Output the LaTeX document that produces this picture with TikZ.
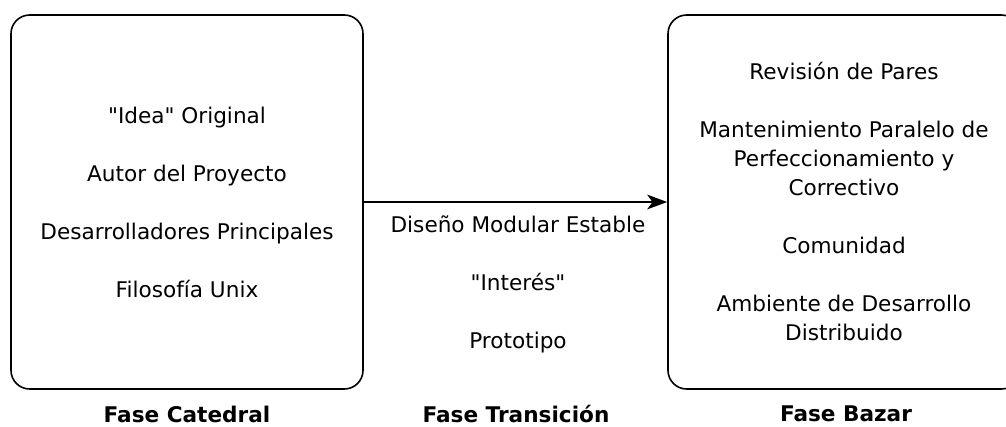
\documentclass[tikz,border=0pt]{standalone}
\usepackage{fontspec}
\setmainfont{DejaVu Sans}
\usetikzlibrary{arrows.meta,positioning}

\tikzset{
  fasebox/.style={draw, line width=1.2pt, rounded corners=14pt,
    minimum width=264pt, minimum height=280.5pt, inner sep=0pt,
    align=center, font=\fontsize{16.2}{21.75}\selectfont},
  texto/.style={align=center, font=\fontsize{16.2}{21.75}\selectfont},
  titulo/.style={font=\fontsize{16.2}{21.75}\selectfont\bfseries}
}

\begin{document}
\begin{tikzpicture}[x=0.75pt,y=-0.75pt]
    \clip (0,0) rectangle (1006,426);

    % fases
    \node [fasebox] (catedral) at (187,202)
      {\textquotedbl Idea\textquotedbl{} Original\\[21.75pt]
       Autor del Proyecto\\[21.75pt]
       Desarrolladores Principales\\[21.75pt]
       Filosofía Unix};
    \node [fasebox] (bazar) at (844,202)
      {Revisión de Pares\\[21.75pt]
       Mantenimiento Paralelo de\\
       Perfeccionamiento y\\
       Correctivo\\[21.75pt]
       Comunidad\\[21.75pt]
       Ambiente de Desarrollo\\
       Distribuido};

    \draw [line width=1.2pt, -{Stealth[length=15pt,width=11pt,inset=4pt]}]
      (catedral) -- (bazar);

    \node [texto] (transicion) at (518,284)
      {Diseño Modular Estable\\[21.75pt]
       \textquotedbl Interés\textquotedbl\\[21.75pt]
       Prototipo};

    % titulos
    \node [titulo] (tcatedral)   at (187,414) {Fase Catedral};
    \node [titulo] (ttransicion) at (516,414) {Fase Transición};
    \node [titulo] (tbazar)      at (846,414) {Fase Bazar};
\end{tikzpicture}
\end{document}
